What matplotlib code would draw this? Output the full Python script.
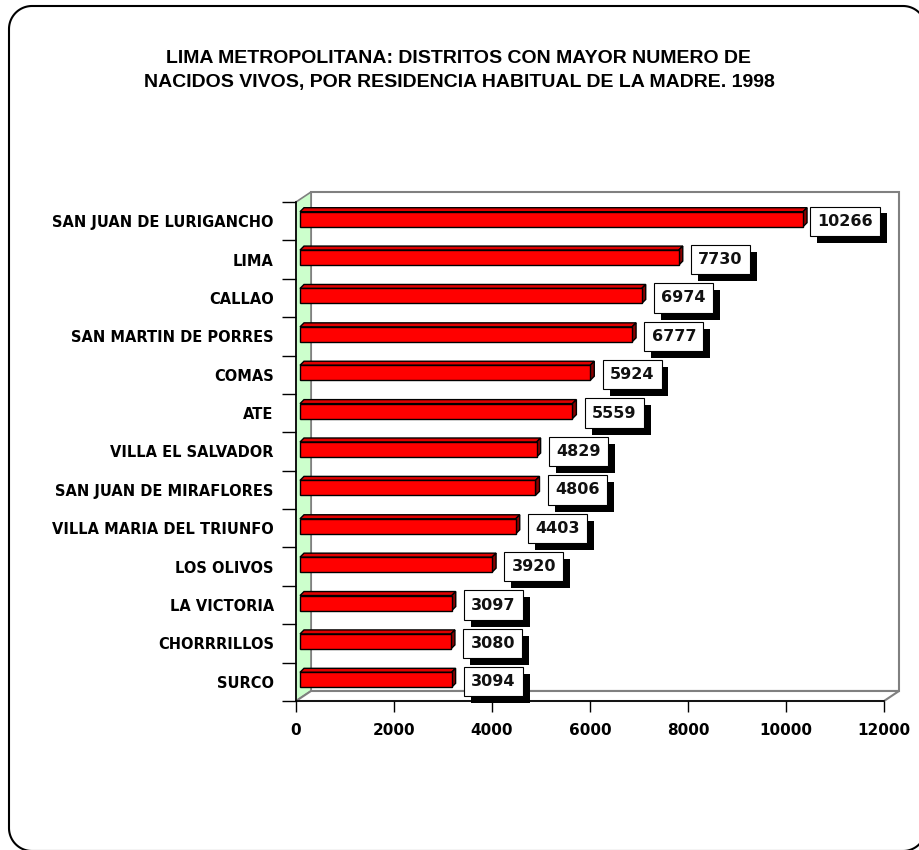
import matplotlib
matplotlib.use("Agg")
import numpy as np
import matplotlib.pyplot as plt
from matplotlib.patches import Polygon
from matplotlib.lines import Line2D
from matplotlib.transforms import IdentityTransform
import matplotlib.patheffects as pe

categories = ["SAN JUAN DE LURIGANCHO", "LIMA", "CALLAO", "SAN MARTIN DE PORRES",
              "COMAS", "ATE", "VILLA EL SALVADOR", "SAN JUAN DE MIRAFLORES",
              "VILLA MARIA DEL TRIUNFO", "LOS OLIVOS", "LA VICTORIA",
              "CHORRRILLOS", "SURCO"]
values = [10266, 7730, 6974, 6777, 5924, 5559, 4829, 4806, 4403, 3920, 3097, 3080, 3094]
xticks = [0, 2000, 4000, 6000, 8000, 10000, 12000]
title = ("LIMA METROPOLITANA: DISTRITOS CON MAYOR NUMERO DE\n"
         "NACIDOS VIVOS, POR RESIDENCIA HABITUAL DE LA MADRE. 1998")

W, H = 919, 850
fig = plt.figure(figsize=(W / 100, H / 100), dpi=100)
fig.patch.set_facecolor("white")

# rounded border drawn in pixel coordinates (origin bottom-left)
bl, bt, br, bb, R = 9, 6, 926, 851, 23
x0b, x1b = bl, br
y0b, y1b = H - bb, H - bt
pts = []
for (cx, cy, a0) in [(x1b - R, y1b - R, 0), (x0b + R, y1b - R, 90),
                     (x0b + R, y0b + R, 180), (x1b - R, y0b + R, 270)]:
    ang = np.radians(np.linspace(a0, a0 + 90, 30))
    pts += list(zip(cx + R * np.cos(ang), cy + R * np.sin(ang)))
pts.append(pts[0])
bx, by = zip(*pts)
fig.lines.append(Line2D(bx, by, transform=IdentityTransform(), color="black",
                        linewidth=1.5, solid_joinstyle="round"))

ax_l, ax_r, ax_t, ax_b = 296, 884, 202, 701
ax = fig.add_axes([ax_l / W, 1 - ax_b / H, (ax_r - ax_l) / W, (ax_b - ax_t) / H])
n = len(categories)
ax.set_xlim(0, 12000)
ax.set_ylim(n - 0.5, -0.5)
ax.set_facecolor("none")

pxx = 12000 / (ax_r - ax_l)     # data units per pixel (x)
pxy = n / (ax_b - ax_t)         # data units per pixel (y)

# 3D walls
wdx, wdy = 15 * pxx, 10 * pxy
gray = "#808080"
back = Polygon([(wdx, -0.5 - wdy), (12000 + wdx, -0.5 - wdy),
                (12000 + wdx, n - 0.5 - wdy), (wdx, n - 0.5 - wdy)],
               closed=True, facecolor="white", edgecolor=gray, linewidth=1.5,
               clip_on=False, zorder=0.5)
ax.add_patch(back)
side = Polygon([(0, n - 0.5), (0, -0.5), (wdx, -0.5 - wdy), (wdx, n - 0.5 - wdy)],
               closed=True, facecolor="#CCFFCC", edgecolor=gray, linewidth=1.2,
               clip_on=False, zorder=0.6)
ax.add_patch(side)
floor = Polygon([(0, n - 0.5), (12000, n - 0.5), (12000 + wdx, n - 0.5 - wdy),
                 (wdx, n - 0.5 - wdy)],
                closed=True, facecolor="white", edgecolor=gray, linewidth=1.5,
                clip_on=False, zorder=0.6)
ax.add_patch(floor)

# bars
ys = list(range(n))
bh = 15 * pxy
shx, shy = 4 * pxx, -2 * pxy
ddx, ddy = 4 * pxx, 4 * pxy
ax.barh([y + shy for y in ys], values, height=bh, left=shx, color="#FF0000",
        edgecolor="black", linewidth=1.0, zorder=3)
for y, v in zip(ys, values):
    yt = y + shy - bh / 2
    yb = y + shy + bh / 2
    xa, xb = shx, shx + v
    top = Polygon([(xa, yt), (xb, yt), (xb + ddx, yt - ddy), (xa + ddx, yt - ddy)],
                  closed=True, facecolor="#E00000", edgecolor="black",
                  linewidth=1.0, zorder=2.9, clip_on=False)
    ax.add_patch(top)
    sd = Polygon([(xb, yt), (xb, yb), (xb + ddx, yb - ddy), (xb + ddx, yt - ddy)],
                 closed=True, facecolor="#8B0000", edgecolor="black",
                 linewidth=1.0, zorder=2.9, clip_on=False)
    ax.add_patch(sd)

# value labels
for y, v in zip(ys, values):
    t = ax.annotate(str(v), xy=(v, y), xytext=(33, 0), textcoords="offset points",
                    ha="center", va="center", fontsize=11.5, fontweight="bold",
                    family="DejaVu Sans", color="#111111", zorder=5,
                    annotation_clip=False,
                    bbox=dict(boxstyle="square,pad=0.45", facecolor="white",
                              edgecolor="black", linewidth=0.8))
    t.get_bbox_patch().set_path_effects([
        pe.SimplePatchShadow(offset=(5, -5), shadow_rgbFace="black", alpha=1.0),
        pe.Normal()])

# axes styling
for s in ["top", "right"]:
    ax.spines[s].set_visible(False)
ax.spines["left"].set_linewidth(1.2)
ax.spines["bottom"].set_linewidth(1.2)
ax.spines["left"].set_zorder(1)
ax.spines["bottom"].set_zorder(1)

ax.set_xticks(xticks)
ax.set_xticklabels([str(x) for x in xticks], fontsize=11, fontweight="bold",
                   family="DejaVu Sans")
ax.tick_params(axis="x", direction="out", length=8, width=1.0, pad=8)

ax.set_yticks(ys)
ax.set_yticklabels(categories, fontsize=10.5, fontweight="bold", family="DejaVu Sans")
ax.tick_params(axis="y", which="major", length=0, pad=16)
ax.set_yticks([y - 0.5 for y in range(n + 1)], minor=True)
ax.tick_params(axis="y", which="minor", direction="out", length=10, width=1.0)

fig.text(459 / W, 1 - 70.5 / H, title, ha="center", va="center", fontsize=14,
         fontweight="bold", family="Liberation Sans", linespacing=1.5)

fig.savefig("out.png", dpi=100)
